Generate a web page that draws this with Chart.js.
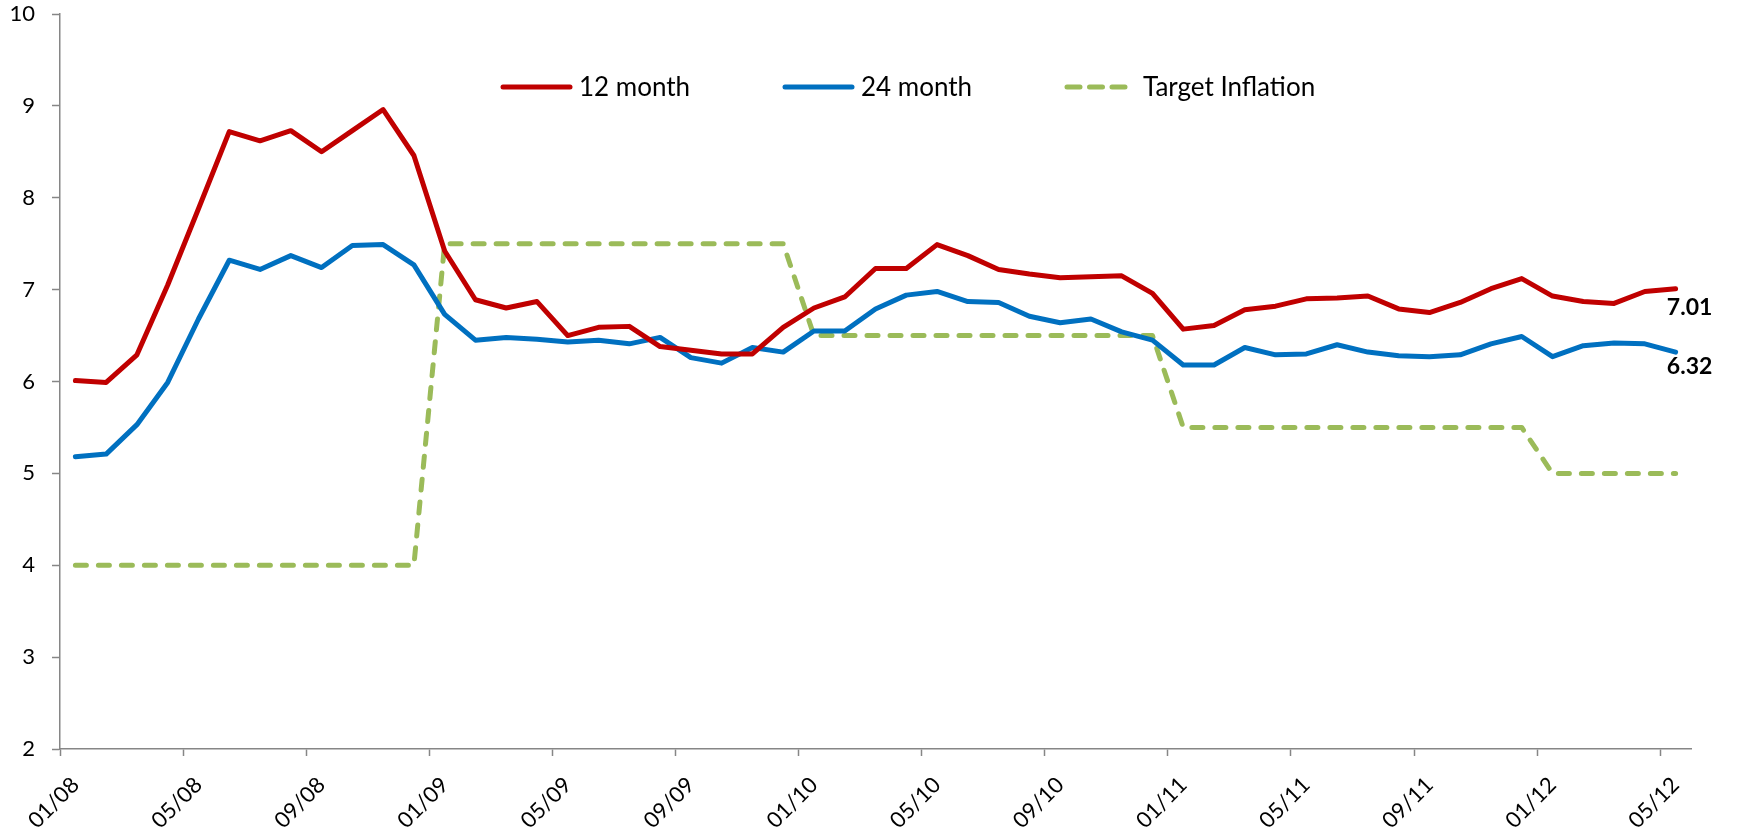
<!DOCTYPE html>
<html>
<head>
<meta charset="utf-8">
<script src="https://cdn.jsdelivr.net/npm/chart.js@4.4.1/dist/chart.umd.min.js"></script>
<style>
  html, body { margin: 0; padding: 0; background: #ffffff; }
  #wrap { width: 1738px; height: 833px; position: relative; }
</style>
</head>
<body>
<div id="wrap"><canvas id="c" width="1738" height="833"></canvas></div>
<script>
// ---- data ----
const months = [
  "01/08","02/08","03/08","04/08","05/08","06/08","07/08","08/08","09/08","10/08","11/08","12/08",
  "01/09","02/09","03/09","04/09","05/09","06/09","07/09","08/09","09/09","10/09","11/09","12/09",
  "01/10","02/10","03/10","04/10","05/10","06/10","07/10","08/10","09/10","10/10","11/10","12/10",
  "01/11","02/11","03/11","04/11","05/11","06/11","07/11","08/11","09/11","10/11","11/11","12/11",
  "01/12","02/12","03/12","04/12","05/12"
];
const seriesNames = ["12 month", "24 month", "Target Inflation"];
const month12 = [
  6.01, 5.99, 6.29, 7.05, 7.88, 8.72, 8.62, 8.73, 8.50, 8.73, 8.96, 8.46,
  7.42, 6.89, 6.80, 6.87, 6.50, 6.59, 6.60, 6.38, 6.34, 6.30, 6.30, 6.59,
  6.80, 6.92, 7.23, 7.23, 7.49, 7.37, 7.22, 7.17, 7.13, 7.14, 7.15, 6.96,
  6.57, 6.61, 6.78, 6.82, 6.90, 6.91, 6.93, 6.79, 6.75, 6.86, 7.01, 7.12,
  6.93, 6.87, 6.85, 6.98, 7.01
];
const month24 = [
  5.18, 5.21, 5.53, 5.99, 6.68, 7.32, 7.22, 7.37, 7.24, 7.48, 7.49, 7.27,
  6.73, 6.45, 6.48, 6.46, 6.43, 6.45, 6.41, 6.48, 6.26, 6.20, 6.37, 6.32,
  6.55, 6.55, 6.79, 6.94, 6.98, 6.87, 6.86, 6.71, 6.64, 6.68, 6.54, 6.45,
  6.18, 6.18, 6.37, 6.29, 6.30, 6.40, 6.32, 6.28, 6.27, 6.29, 6.41, 6.49,
  6.27, 6.39, 6.42, 6.41, 6.32
];
const targetInflation = [
  4, 4, 4, 4, 4, 4, 4, 4, 4, 4, 4, 4,
  7.5, 7.5, 7.5, 7.5, 7.5, 7.5, 7.5, 7.5, 7.5, 7.5, 7.5, 7.5,
  6.5, 6.5, 6.5, 6.5, 6.5, 6.5, 6.5, 6.5, 6.5, 6.5, 6.5, 6.5,
  5.5, 5.5, 5.5, 5.5, 5.5, 5.5, 5.5, 5.5, 5.5, 5.5, 5.5, 5.5,
  5, 5, 5, 5, 5
];
const yMin = 2, yMax = 10, yStep = 1;
const labelEvery = 4;
const endLabelSeries = [0, 1];

// ---- styles ----
const FONT = "Lato, 'Open Sans', 'DejaVu Sans', sans-serif";
const AXIS = "#868686";
const colors = ["#C00000", "#0070C0", "#9BBB59"];
const endLabelDy = [19, 14];

const legendPlugin = {
  id: 'excelLegend',
  afterDraw(chart) {
    const ctx = chart.ctx;
    const startX = 503, slot = 282, y = 87, lineLen = 67, gap = 9;
    ctx.save();
    ctx.font = "26px " + FONT;
    ctx.textBaseline = 'middle';
    ctx.textAlign = 'left';
    chart.data.datasets.forEach((ds, i) => {
      const x0 = startX + i * slot;
      ctx.beginPath();
      ctx.strokeStyle = ds.borderColor;
      ctx.lineWidth = ds.borderWidth;
      ctx.lineCap = 'round';
      ctx.setLineDash(ds.borderDash && ds.borderDash.length ? [13, 9.5] : []);
      ctx.moveTo(x0, y);
      ctx.lineTo(x0 + lineLen, y);
      ctx.stroke();
      ctx.setLineDash([]);
      ctx.fillStyle = '#000000';
      ctx.fillText(ds.label, x0 + lineLen + gap, y + 1);
    });
    ctx.restore();
  }
};

const endLabelPlugin = {
  id: 'endLabels',
  afterDatasetsDraw(chart) {
    const ctx = chart.ctx;
    ctx.save();
    ctx.font = "bold 23px " + FONT;
    ctx.fillStyle = '#000000';
    ctx.textAlign = 'center';
    ctx.textBaseline = 'middle';
    endLabelSeries.forEach((di, k) => {
      const meta = chart.getDatasetMeta(di);
      const pts = meta.data;
      const last = pts[pts.length - 1];
      const v = chart.data.datasets[di].data[pts.length - 1];
      ctx.fillText(v.toFixed(2), last.x + 14, last.y + endLabelDy[k]);
    });
    ctx.restore();
  }
};

const lineStyle = (i) => ({
  borderColor: colors[i],
  backgroundColor: colors[i],
  borderWidth: 5,
  pointRadius: 0,
  pointHoverRadius: 0,
  tension: 0,
  fill: false,
  borderJoinStyle: 'round',
  borderCapStyle: 'round'
});

new Chart(document.getElementById('c'), {
  type: 'line',
  data: {
    labels: months,
    datasets: [
      Object.assign({ label: seriesNames[0], data: month12 }, lineStyle(0)),
      Object.assign({ label: seriesNames[1], data: month24 }, lineStyle(1)),
      Object.assign({ label: seriesNames[2], data: targetInflation, borderDash: [11, 12] }, lineStyle(2))
    ]
  },
  options: {
    responsive: false,
    animation: false,
    devicePixelRatio: 1,
    layout: { padding: { top: 0, right: 47, bottom: 0, left: 0 } },
    plugins: {
      legend: { display: false },
      tooltip: { enabled: false }
    },
    scales: {
      x: {
        type: 'category',
        offset: true,
        afterFit(scale) { scale.height = 84; },
        border: { display: true, color: AXIS, width: 1.5 },
        grid: {
          offset: true,
          drawOnChartArea: false,
          drawTicks: true,
          tickLength: 7,
          tickWidth: 1.5,
          tickColor: (c) => (c.index !== undefined && c.index % labelEvery === 0) ? AXIS : 'rgba(0,0,0,0)'
        },
        ticks: {
          autoSkip: false,
          minRotation: 45,
          maxRotation: 45,
          padding: 16,
          color: '#000000',
          font: { family: FONT, size: 22 },
          callback: function (v, i) { return i % labelEvery === 0 ? this.getLabelForValue(v) : ''; }
        }
      },
      y: {
        min: yMin,
        max: yMax,
        afterFit(scale) { scale.width = 60; scale.paddingTop = 14; scale.paddingBottom = 12; },
        border: { display: true, color: AXIS, width: 1.5 },
        grid: {
          drawOnChartArea: false,
          drawTicks: true,
          tickLength: 8,
          tickWidth: 1.5,
          tickColor: AXIS
        },
        ticks: {
          stepSize: yStep,
          padding: 17,
          color: '#000000',
          font: { family: FONT, size: 22 }
        }
      }
    }
  },
  plugins: [legendPlugin, endLabelPlugin]
});
</script>
</body>
</html>
